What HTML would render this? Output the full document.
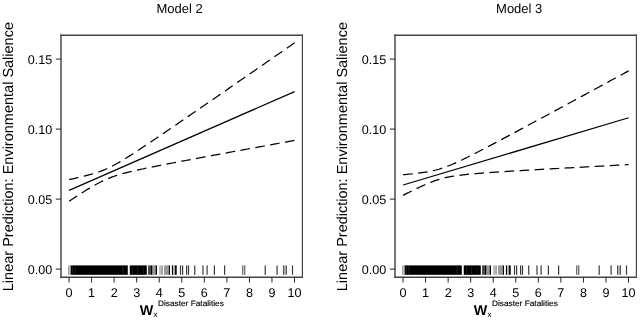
<!DOCTYPE html>
<html><head><meta charset="utf-8"><title>Figure</title>
<style>
html,body{margin:0;padding:0;background:#fff;}
svg{display:block;}
text{font-family:"Liberation Sans", Arial, Helvetica, sans-serif;fill:#000;text-rendering:geometricPrecision;}
</style></head>
<body>
<svg width="640" height="320" viewBox="0 0 640 320">
<rect width="640" height="320" fill="#fff"/>
<g transform="translate(0,0)">
<rect x="61.0" y="35.2" width="241.40" height="242.00" fill="#fff"/>
<path d="M61.0 34.45V277.95" stroke="#444" stroke-width="1.45" fill="none"/>
<path d="M60.25 35.2H303.00" stroke="#444" stroke-width="1.35" fill="none"/>
<path d="M302.4 34.45V277.95" stroke="#444" stroke-width="1.2" fill="none"/>
<path d="M60.25 277.2H303.00" stroke="#444" stroke-width="1.35" fill="none"/>
<line x1="55.8" y1="269.1" x2="61.0" y2="269.1" stroke="#222" stroke-width="1"/>
<text x="52.2" y="273.5" text-anchor="end" font-size="12.6">0.00</text>
<line x1="55.8" y1="199.1" x2="61.0" y2="199.1" stroke="#222" stroke-width="1"/>
<text x="52.2" y="203.5" text-anchor="end" font-size="12.6">0.05</text>
<line x1="55.8" y1="129.1" x2="61.0" y2="129.1" stroke="#222" stroke-width="1"/>
<text x="52.2" y="133.5" text-anchor="end" font-size="12.6">0.10</text>
<line x1="55.8" y1="59.1" x2="61.0" y2="59.1" stroke="#222" stroke-width="1"/>
<text x="52.2" y="63.5" text-anchor="end" font-size="12.6">0.15</text>
<line x1="69.05" y1="277.2" x2="69.05" y2="282.5" stroke="#222" stroke-width="1"/>
<text x="69.05" y="297.1" text-anchor="middle" font-size="12.6">0</text>
<line x1="91.59" y1="277.2" x2="91.59" y2="282.5" stroke="#222" stroke-width="1"/>
<text x="91.59" y="297.1" text-anchor="middle" font-size="12.6">1</text>
<line x1="114.14" y1="277.2" x2="114.14" y2="282.5" stroke="#222" stroke-width="1"/>
<text x="114.14" y="297.1" text-anchor="middle" font-size="12.6">2</text>
<line x1="136.69" y1="277.2" x2="136.69" y2="282.5" stroke="#222" stroke-width="1"/>
<text x="136.69" y="297.1" text-anchor="middle" font-size="12.6">3</text>
<line x1="159.23" y1="277.2" x2="159.23" y2="282.5" stroke="#222" stroke-width="1"/>
<text x="159.23" y="297.1" text-anchor="middle" font-size="12.6">4</text>
<line x1="181.78" y1="277.2" x2="181.78" y2="282.5" stroke="#222" stroke-width="1"/>
<text x="181.78" y="297.1" text-anchor="middle" font-size="12.6">5</text>
<line x1="204.32" y1="277.2" x2="204.32" y2="282.5" stroke="#222" stroke-width="1"/>
<text x="204.32" y="297.1" text-anchor="middle" font-size="12.6">6</text>
<line x1="226.87" y1="277.2" x2="226.87" y2="282.5" stroke="#222" stroke-width="1"/>
<text x="226.87" y="297.1" text-anchor="middle" font-size="12.6">7</text>
<line x1="249.41" y1="277.2" x2="249.41" y2="282.5" stroke="#222" stroke-width="1"/>
<text x="249.41" y="297.1" text-anchor="middle" font-size="12.6">8</text>
<line x1="271.96" y1="277.2" x2="271.96" y2="282.5" stroke="#222" stroke-width="1"/>
<text x="271.96" y="297.1" text-anchor="middle" font-size="12.6">9</text>
<line x1="294.50" y1="277.2" x2="294.50" y2="282.5" stroke="#222" stroke-width="1"/>
<text x="294.50" y="297.1" text-anchor="middle" font-size="12.6">10</text>
<text x="179.5" y="13.0" text-anchor="middle" font-size="13">Model 2</text>
<text transform="translate(13.1,156.6) rotate(-90)" text-anchor="middle" font-size="14.5">Linear Prediction: Environmental Salience</text>
<text x="139.8" y="314.6"><tspan font-weight="bold" font-size="14.3">W</tspan><tspan font-size="8.2" dy="1.9" dx="0.2">x</tspan></text>
<text transform="translate(158.0,306.4) scale(0.1035,0.1)" font-size="80" stroke="#000" stroke-width="1.5">Disaster Fatalities</text>
<rect x="68.45" y="265.4" width="0.95" height="9.4" fill="#555"/>
<rect x="69.40" y="265.4" width="1.20" height="9.4" fill="#ccc"/>
<rect x="70.60" y="265.4" width="57.20" height="9.4" fill="#000"/>
<rect x="72.20" y="265.4" width="0.60" height="9.4" fill="#333"/>
<rect x="74.70" y="265.4" width="0.60" height="9.4" fill="#333"/>
<rect x="122.80" y="265.4" width="0.60" height="9.4" fill="#333"/>
<rect x="129.75" y="265.4" width="17.05" height="9.4" fill="#000"/>
<rect x="132.20" y="265.4" width="0.60" height="9.4" fill="#2a2a2a"/>
<rect x="137.20" y="265.4" width="0.60" height="9.4" fill="#2a2a2a"/>
<rect x="142.80" y="265.4" width="0.60" height="9.4" fill="#2a2a2a"/>
<rect x="148.10" y="265.4" width="2.80" height="9.4" fill="#444"/>
<rect x="150.90" y="265.4" width="1.40" height="9.4" fill="#000"/>
<rect x="152.30" y="265.4" width="0.60" height="9.4" fill="#555"/>
<rect x="152.90" y="265.4" width="2.70" height="9.4" fill="#999"/>
<rect x="155.60" y="265.4" width="1.40" height="9.4" fill="#000"/>
<rect x="159.10" y="265.4" width="2.60" height="9.4" fill="#bbb"/>
<rect x="161.70" y="265.4" width="0.90" height="9.4" fill="#666"/>
<rect x="164.00" y="265.4" width="4.80" height="9.4" fill="#999"/>
<rect x="168.80" y="265.4" width="1.15" height="9.4" fill="#000"/>
<rect x="171.90" y="265.4" width="1.20" height="9.4" fill="#000"/>
<rect x="173.10" y="265.4" width="1.70" height="9.4" fill="#bbb"/>
<rect x="174.80" y="265.4" width="1.30" height="9.4" fill="#000"/>
<rect x="175.70" y="265.4" width="1.20" height="9.4" fill="#3a3a3a"/>
<rect x="179.90" y="265.4" width="1.20" height="9.4" fill="#3a3a3a"/>
<rect x="182.00" y="265.4" width="1.20" height="9.4" fill="#3a3a3a"/>
<rect x="186.00" y="265.4" width="1.20" height="9.4" fill="#3a3a3a"/>
<rect x="187.90" y="265.4" width="1.20" height="9.4" fill="#3a3a3a"/>
<rect x="194.15" y="265.4" width="1.20" height="9.4" fill="#3a3a3a"/>
<rect x="202.40" y="265.4" width="1.20" height="9.4" fill="#3a3a3a"/>
<rect x="206.50" y="265.4" width="1.20" height="9.4" fill="#3a3a3a"/>
<rect x="213.80" y="265.4" width="1.20" height="9.4" fill="#3a3a3a"/>
<rect x="224.00" y="265.4" width="1.20" height="9.4" fill="#3a3a3a"/>
<rect x="264.60" y="265.4" width="1.20" height="9.4" fill="#3a3a3a"/>
<rect x="276.50" y="265.4" width="1.20" height="9.4" fill="#3a3a3a"/>
<rect x="291.90" y="265.4" width="1.20" height="9.4" fill="#3a3a3a"/>
<rect x="242.20" y="265.4" width="1.00" height="9.4" fill="#555"/>
<rect x="243.20" y="265.4" width="1.00" height="9.4" fill="#bbb"/>
<rect x="244.20" y="265.4" width="1.10" height="9.4" fill="#555"/>
<rect x="283.00" y="265.4" width="1.10" height="9.4" fill="#555"/>
<rect x="284.10" y="265.4" width="1.90" height="9.4" fill="#aaa"/>
<rect x="286.00" y="265.4" width="1.00" height="9.4" fill="#555"/>
<line x1="69.1" y1="190.4" x2="294.65" y2="91.6" stroke="#000" stroke-width="1.25"/>
<polyline points="69.10,179.58 70.98,179.18 72.86,178.77 74.74,178.35 76.62,177.93 78.50,177.50 80.38,177.07 82.26,176.62 84.14,176.16 86.02,175.68 87.90,175.19 89.78,174.68 91.66,174.15 93.53,173.59 95.41,173.01 97.29,172.39 99.17,171.74 101.05,171.05 102.93,170.32 104.81,169.55 106.69,168.73 108.57,167.87 110.45,166.97 112.33,166.02 114.21,165.03 116.09,164.01 117.97,162.95 119.85,161.87 121.73,160.76 123.61,159.63 125.49,158.48 127.37,157.31 129.25,156.13 131.13,154.94 133.01,153.73 134.89,152.51 136.76,151.29 138.64,150.06 140.52,148.82 142.40,147.58 144.28,146.33 146.16,145.08 148.04,143.82 149.92,142.56 151.80,141.29 153.68,140.03 155.56,138.76 157.44,137.48 159.32,136.21 161.20,134.93 163.08,133.66 164.96,132.38 166.84,131.09 168.72,129.81 170.60,128.53 172.48,127.24 174.36,125.95 176.24,124.67 178.12,123.38 180.00,122.09 181.88,120.80 183.75,119.51 185.63,118.22 187.51,116.92 189.39,115.63 191.27,114.34 193.15,113.04 195.03,111.75 196.91,110.45 198.79,109.16 200.67,107.86 202.55,106.56 204.43,105.27 206.31,103.97 208.19,102.67 210.07,101.37 211.95,100.08 213.83,98.78 215.71,97.48 217.59,96.18 219.47,94.88 221.35,93.58 223.23,92.28 225.11,90.98 226.98,89.68 228.86,88.38 230.74,87.08 232.62,85.78 234.50,84.48 236.38,83.18 238.26,81.88 240.14,80.57 242.02,79.27 243.90,77.97 245.78,76.67 247.66,75.37 249.54,74.06 251.42,72.76 253.30,71.46 255.18,70.16 257.06,68.85 258.94,67.55 260.82,66.25 262.70,64.95 264.58,63.64 266.46,62.34 268.34,61.04 270.22,59.73 272.09,58.43 273.97,57.13 275.85,55.82 277.73,54.52 279.61,53.22 281.49,51.91 283.37,50.61 285.25,49.30 287.13,48.00 289.01,46.70 290.89,45.39 292.77,44.09 294.65,42.78" fill="none" stroke="#000" stroke-width="1.25" stroke-dasharray="9.6 5.46"/>
<polyline points="69.10,201.22 70.98,199.98 72.86,198.74 74.74,197.51 76.62,196.28 78.50,195.06 80.38,193.85 82.26,192.66 84.14,191.47 86.02,190.30 87.90,189.15 89.78,188.01 91.66,186.89 93.53,185.80 95.41,184.74 97.29,183.71 99.17,182.71 101.05,181.75 102.93,180.84 104.81,179.96 106.69,179.13 108.57,178.35 110.45,177.61 112.33,176.91 114.21,176.25 116.09,175.63 117.97,175.03 119.85,174.47 121.73,173.93 123.61,173.42 125.49,172.92 127.37,172.44 129.25,171.98 131.13,171.52 133.01,171.08 134.89,170.65 136.76,170.23 138.64,169.81 140.52,169.40 142.40,169.00 144.28,168.60 146.16,168.21 148.04,167.82 149.92,167.43 151.80,167.05 153.68,166.67 155.56,166.30 157.44,165.92 159.32,165.55 161.20,165.18 163.08,164.81 164.96,164.44 166.84,164.08 168.72,163.72 170.60,163.35 172.48,162.99 174.36,162.63 176.24,162.27 178.12,161.92 180.00,161.56 181.88,161.20 183.75,160.85 185.63,160.49 187.51,160.14 189.39,159.78 191.27,159.43 193.15,159.08 195.03,158.73 196.91,158.37 198.79,158.02 200.67,157.67 202.55,157.32 204.43,156.97 206.31,156.62 208.19,156.27 210.07,155.93 211.95,155.58 213.83,155.23 215.71,154.88 217.59,154.53 219.47,154.19 221.35,153.84 223.23,153.49 225.11,153.15 226.98,152.80 228.86,152.45 230.74,152.11 232.62,151.76 234.50,151.42 236.38,151.07 238.26,150.72 240.14,150.38 242.02,150.03 243.90,149.69 245.78,149.34 247.66,149.00 249.54,148.66 251.42,148.31 253.30,147.97 255.18,147.62 257.06,147.28 258.94,146.93 260.82,146.59 262.70,146.25 264.58,145.90 266.46,145.56 268.34,145.22 270.22,144.87 272.09,144.53 273.97,144.19 275.85,143.84 277.73,143.50 279.61,143.16 281.49,142.81 283.37,142.47 285.25,142.13 287.13,141.79 289.01,141.44 290.89,141.10 292.77,140.76 294.65,140.42" fill="none" stroke="#000" stroke-width="1.25" stroke-dasharray="9.6 5.46"/>
</g>
<g transform="translate(334,0)">
<rect x="61.0" y="35.2" width="241.40" height="242.00" fill="#fff"/>
<path d="M61.0 34.45V277.95" stroke="#444" stroke-width="1.45" fill="none"/>
<path d="M60.25 35.2H303.00" stroke="#444" stroke-width="1.35" fill="none"/>
<path d="M302.4 34.45V277.95" stroke="#444" stroke-width="1.2" fill="none"/>
<path d="M60.25 277.2H303.00" stroke="#444" stroke-width="1.35" fill="none"/>
<line x1="55.8" y1="269.1" x2="61.0" y2="269.1" stroke="#222" stroke-width="1"/>
<text x="52.2" y="273.5" text-anchor="end" font-size="12.6">0.00</text>
<line x1="55.8" y1="199.1" x2="61.0" y2="199.1" stroke="#222" stroke-width="1"/>
<text x="52.2" y="203.5" text-anchor="end" font-size="12.6">0.05</text>
<line x1="55.8" y1="129.1" x2="61.0" y2="129.1" stroke="#222" stroke-width="1"/>
<text x="52.2" y="133.5" text-anchor="end" font-size="12.6">0.10</text>
<line x1="55.8" y1="59.1" x2="61.0" y2="59.1" stroke="#222" stroke-width="1"/>
<text x="52.2" y="63.5" text-anchor="end" font-size="12.6">0.15</text>
<line x1="69.05" y1="277.2" x2="69.05" y2="282.5" stroke="#222" stroke-width="1"/>
<text x="69.05" y="297.1" text-anchor="middle" font-size="12.6">0</text>
<line x1="91.59" y1="277.2" x2="91.59" y2="282.5" stroke="#222" stroke-width="1"/>
<text x="91.59" y="297.1" text-anchor="middle" font-size="12.6">1</text>
<line x1="114.14" y1="277.2" x2="114.14" y2="282.5" stroke="#222" stroke-width="1"/>
<text x="114.14" y="297.1" text-anchor="middle" font-size="12.6">2</text>
<line x1="136.69" y1="277.2" x2="136.69" y2="282.5" stroke="#222" stroke-width="1"/>
<text x="136.69" y="297.1" text-anchor="middle" font-size="12.6">3</text>
<line x1="159.23" y1="277.2" x2="159.23" y2="282.5" stroke="#222" stroke-width="1"/>
<text x="159.23" y="297.1" text-anchor="middle" font-size="12.6">4</text>
<line x1="181.78" y1="277.2" x2="181.78" y2="282.5" stroke="#222" stroke-width="1"/>
<text x="181.78" y="297.1" text-anchor="middle" font-size="12.6">5</text>
<line x1="204.32" y1="277.2" x2="204.32" y2="282.5" stroke="#222" stroke-width="1"/>
<text x="204.32" y="297.1" text-anchor="middle" font-size="12.6">6</text>
<line x1="226.87" y1="277.2" x2="226.87" y2="282.5" stroke="#222" stroke-width="1"/>
<text x="226.87" y="297.1" text-anchor="middle" font-size="12.6">7</text>
<line x1="249.41" y1="277.2" x2="249.41" y2="282.5" stroke="#222" stroke-width="1"/>
<text x="249.41" y="297.1" text-anchor="middle" font-size="12.6">8</text>
<line x1="271.96" y1="277.2" x2="271.96" y2="282.5" stroke="#222" stroke-width="1"/>
<text x="271.96" y="297.1" text-anchor="middle" font-size="12.6">9</text>
<line x1="294.50" y1="277.2" x2="294.50" y2="282.5" stroke="#222" stroke-width="1"/>
<text x="294.50" y="297.1" text-anchor="middle" font-size="12.6">10</text>
<text x="185.2" y="13.0" text-anchor="middle" font-size="13">Model 3</text>
<text transform="translate(13.1,156.6) rotate(-90)" text-anchor="middle" font-size="14.5">Linear Prediction: Environmental Salience</text>
<text x="139.8" y="314.6"><tspan font-weight="bold" font-size="14.3">W</tspan><tspan font-size="8.2" dy="1.9" dx="0.2">x</tspan></text>
<text transform="translate(158.0,306.4) scale(0.1035,0.1)" font-size="80" stroke="#000" stroke-width="1.5">Disaster Fatalities</text>
<rect x="68.45" y="265.4" width="0.95" height="9.4" fill="#555"/>
<rect x="69.40" y="265.4" width="1.20" height="9.4" fill="#ccc"/>
<rect x="70.60" y="265.4" width="57.20" height="9.4" fill="#000"/>
<rect x="72.20" y="265.4" width="0.60" height="9.4" fill="#333"/>
<rect x="74.70" y="265.4" width="0.60" height="9.4" fill="#333"/>
<rect x="122.80" y="265.4" width="0.60" height="9.4" fill="#333"/>
<rect x="129.75" y="265.4" width="17.05" height="9.4" fill="#000"/>
<rect x="132.20" y="265.4" width="0.60" height="9.4" fill="#2a2a2a"/>
<rect x="137.20" y="265.4" width="0.60" height="9.4" fill="#2a2a2a"/>
<rect x="142.80" y="265.4" width="0.60" height="9.4" fill="#2a2a2a"/>
<rect x="148.10" y="265.4" width="2.80" height="9.4" fill="#444"/>
<rect x="150.90" y="265.4" width="1.40" height="9.4" fill="#000"/>
<rect x="152.30" y="265.4" width="0.60" height="9.4" fill="#555"/>
<rect x="152.90" y="265.4" width="2.70" height="9.4" fill="#999"/>
<rect x="155.60" y="265.4" width="1.40" height="9.4" fill="#000"/>
<rect x="159.10" y="265.4" width="2.60" height="9.4" fill="#bbb"/>
<rect x="161.70" y="265.4" width="0.90" height="9.4" fill="#666"/>
<rect x="164.00" y="265.4" width="4.80" height="9.4" fill="#999"/>
<rect x="168.80" y="265.4" width="1.15" height="9.4" fill="#000"/>
<rect x="171.90" y="265.4" width="1.20" height="9.4" fill="#000"/>
<rect x="173.10" y="265.4" width="1.70" height="9.4" fill="#bbb"/>
<rect x="174.80" y="265.4" width="1.30" height="9.4" fill="#000"/>
<rect x="175.70" y="265.4" width="1.20" height="9.4" fill="#3a3a3a"/>
<rect x="179.90" y="265.4" width="1.20" height="9.4" fill="#3a3a3a"/>
<rect x="182.00" y="265.4" width="1.20" height="9.4" fill="#3a3a3a"/>
<rect x="186.00" y="265.4" width="1.20" height="9.4" fill="#3a3a3a"/>
<rect x="187.90" y="265.4" width="1.20" height="9.4" fill="#3a3a3a"/>
<rect x="194.15" y="265.4" width="1.20" height="9.4" fill="#3a3a3a"/>
<rect x="202.40" y="265.4" width="1.20" height="9.4" fill="#3a3a3a"/>
<rect x="206.50" y="265.4" width="1.20" height="9.4" fill="#3a3a3a"/>
<rect x="213.80" y="265.4" width="1.20" height="9.4" fill="#3a3a3a"/>
<rect x="224.00" y="265.4" width="1.20" height="9.4" fill="#3a3a3a"/>
<rect x="264.60" y="265.4" width="1.20" height="9.4" fill="#3a3a3a"/>
<rect x="276.50" y="265.4" width="1.20" height="9.4" fill="#3a3a3a"/>
<rect x="291.90" y="265.4" width="1.20" height="9.4" fill="#3a3a3a"/>
<rect x="242.20" y="265.4" width="1.00" height="9.4" fill="#555"/>
<rect x="243.20" y="265.4" width="1.00" height="9.4" fill="#bbb"/>
<rect x="244.20" y="265.4" width="1.10" height="9.4" fill="#555"/>
<rect x="283.00" y="265.4" width="1.10" height="9.4" fill="#555"/>
<rect x="284.10" y="265.4" width="1.90" height="9.4" fill="#aaa"/>
<rect x="286.00" y="265.4" width="1.00" height="9.4" fill="#555"/>
<line x1="69.1" y1="185.0" x2="294.65" y2="117.75" stroke="#000" stroke-width="1.25"/>
<polyline points="69.10,174.68 70.98,174.52 72.86,174.36 74.74,174.18 76.62,174.00 78.50,173.82 80.38,173.62 82.26,173.41 84.14,173.19 86.02,172.95 87.90,172.70 89.78,172.43 91.66,172.14 93.53,171.82 95.41,171.48 97.29,171.11 99.17,170.70 101.05,170.26 102.93,169.77 104.81,169.25 106.69,168.68 108.57,168.08 110.45,167.43 112.33,166.74 114.21,166.02 116.09,165.26 117.97,164.48 119.85,163.66 121.73,162.83 123.61,161.97 125.49,161.10 127.37,160.21 129.25,159.31 131.13,158.39 133.01,157.47 134.89,156.53 136.76,155.59 138.64,154.64 140.52,153.68 142.40,152.72 144.28,151.75 146.16,150.78 148.04,149.81 149.92,148.83 151.80,147.85 153.68,146.86 155.56,145.87 157.44,144.89 159.32,143.89 161.20,142.90 163.08,141.90 164.96,140.91 166.84,139.91 168.72,138.91 170.60,137.91 172.48,136.91 174.36,135.90 176.24,134.90 178.12,133.89 180.00,132.89 181.88,131.88 183.75,130.87 185.63,129.86 187.51,128.85 189.39,127.84 191.27,126.83 193.15,125.82 195.03,124.81 196.91,123.80 198.79,122.79 200.67,121.78 202.55,120.76 204.43,119.75 206.31,118.73 208.19,117.72 210.07,116.71 211.95,115.69 213.83,114.68 215.71,113.66 217.59,112.64 219.47,111.63 221.35,110.61 223.23,109.60 225.11,108.58 226.98,107.56 228.86,106.55 230.74,105.53 232.62,104.51 234.50,103.49 236.38,102.48 238.26,101.46 240.14,100.44 242.02,99.42 243.90,98.40 245.78,97.39 247.66,96.37 249.54,95.35 251.42,94.33 253.30,93.31 255.18,92.29 257.06,91.27 258.94,90.25 260.82,89.23 262.70,88.21 264.58,87.19 266.46,86.17 268.34,85.15 270.22,84.13 272.09,83.11 273.97,82.09 275.85,81.07 277.73,80.05 279.61,79.03 281.49,78.01 283.37,76.99 285.25,75.97 287.13,74.95 289.01,73.93 290.89,72.91 292.77,71.89 294.65,70.87" fill="none" stroke="#000" stroke-width="1.25" stroke-dasharray="9.6 5.46"/>
<polyline points="69.10,195.32 70.98,194.36 72.86,193.40 74.74,192.45 76.62,191.51 78.50,190.58 80.38,189.66 82.26,188.74 84.14,187.84 86.02,186.96 87.90,186.09 89.78,185.24 91.66,184.41 93.53,183.60 95.41,182.83 97.29,182.08 99.17,181.37 101.05,180.69 102.93,180.05 104.81,179.45 106.69,178.90 108.57,178.39 110.45,177.91 112.33,177.48 114.21,177.08 116.09,176.72 117.97,176.38 119.85,176.07 121.73,175.79 123.61,175.52 125.49,175.28 127.37,175.04 129.25,174.83 131.13,174.62 133.01,174.43 134.89,174.24 136.76,174.06 138.64,173.89 140.52,173.73 142.40,173.57 144.28,173.41 146.16,173.26 148.04,173.12 149.92,172.98 151.80,172.84 153.68,172.70 155.56,172.57 157.44,172.44 159.32,172.31 161.20,172.18 163.08,172.05 164.96,171.93 166.84,171.81 168.72,171.69 170.60,171.57 172.48,171.45 174.36,171.33 176.24,171.21 178.12,171.10 180.00,170.98 181.88,170.87 183.75,170.76 185.63,170.64 187.51,170.53 189.39,170.42 191.27,170.31 193.15,170.20 195.03,170.09 196.91,169.98 198.79,169.87 200.67,169.77 202.55,169.66 204.43,169.55 206.31,169.44 208.19,169.34 210.07,169.23 211.95,169.13 213.83,169.02 215.71,168.91 217.59,168.81 219.47,168.70 221.35,168.60 223.23,168.50 225.11,168.39 226.98,168.29 228.86,168.18 230.74,168.08 232.62,167.98 234.50,167.87 236.38,167.77 238.26,167.67 240.14,167.56 242.02,167.46 243.90,167.36 245.78,167.26 247.66,167.15 249.54,167.05 251.42,166.95 253.30,166.85 255.18,166.75 257.06,166.64 258.94,166.54 260.82,166.44 262.70,166.34 264.58,166.24 266.46,166.14 268.34,166.04 270.22,165.94 272.09,165.84 273.97,165.73 275.85,165.63 277.73,165.53 279.61,165.43 281.49,165.33 283.37,165.23 285.25,165.13 287.13,165.03 289.01,164.93 290.89,164.83 292.77,164.73 294.65,164.63" fill="none" stroke="#000" stroke-width="1.25" stroke-dasharray="9.6 5.46"/>
</g>
</svg>
</body></html>
